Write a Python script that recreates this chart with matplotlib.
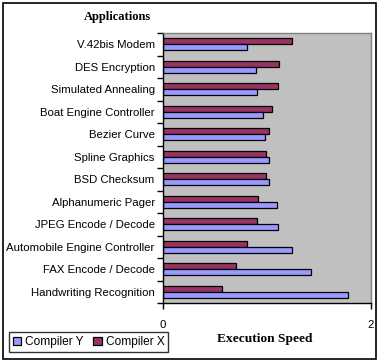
import numpy as np
import matplotlib
matplotlib.use("Agg")
import matplotlib.pyplot as plt
from matplotlib.patches import Rectangle
from matplotlib.ticker import FixedLocator, NullFormatter

categories = ["V.42bis Modem", "DES Encryption", "Simulated Annealing",
              "Boat Engine Controller", "Bezier Curve", "Spline Graphics",
              "BSD Checksum", "Alphanumeric Pager", "JPEG Encode / Decode",
              "Automobile Engine Controller", "FAX Encode / Decode",
              "Handwriting Recognition"]
compiler_x = [1.244, 1.12, 1.11, 1.05, 1.023, 0.994, 0.994, 0.917, 0.907, 0.808, 0.705, 0.571]
compiler_y = [0.808, 0.898, 0.907, 0.965, 0.985, 1.023, 1.023, 1.10, 1.11, 1.244, 1.427, 1.782]
xticks = [0, 2]

W, H = 378, 361
fig = plt.figure(figsize=(W / 100, H / 100), dpi=100)
fig.patch.set_facecolor("white")
fig.patches.append(Rectangle((3 / W, 2 / H), 373 / W, 356 / H, transform=fig.transFigure,
                             fill=False, edgecolor="black", linewidth=1.2))

ax = fig.add_axes([163 / W, (H - 303) / H, 208 / W, 270 / H])
ax.set_facecolor("#C0C0C0")

n = len(categories)
pos = np.arange(n)
h = 0.27
ax.barh(pos - h / 2, compiler_x, height=h, color="#993366", edgecolor="black",
        linewidth=0.9, label="Compiler X")
ax.barh(pos + h / 2, compiler_y, height=h, color="#9999FF", edgecolor="black",
        linewidth=0.9, label="Compiler Y")

ax.set_ylim(n - 0.5, -0.5)
ax.set_xlim(0, 2)

font = "Liberation Sans"
ax.yaxis.set_major_locator(FixedLocator(np.arange(n + 1) - 0.5))
ax.yaxis.set_major_formatter(NullFormatter())
ax.set_yticks(pos, minor=True)
ax.set_yticklabels(categories, minor=True, fontfamily=font, fontsize=8.2)
ax.tick_params(axis="y", which="major", direction="out", length=4, width=1)
ax.tick_params(axis="y", which="minor", length=0, pad=6)

ax.set_xticks(xticks)
ax.set_xticklabels([str(t) for t in xticks], fontfamily=font, fontsize=8.2)
ax.tick_params(axis="x", direction="out", length=4, width=1, pad=8)

for s in ["top", "right"]:
    ax.spines[s].set_color("#808080")
    ax.spines[s].set_linewidth(1)
for s in ["left", "bottom"]:
    ax.spines[s].set_color("black")
    ax.spines[s].set_linewidth(1)

fig.text(117 / W, 1 - 17 / H, "Applications", ha="center", va="center",
         fontfamily="Liberation Serif", fontweight="bold", fontsize=9)
fig.text(265 / W, 1 - 339 / H, "Execution Speed", ha="center", va="center",
         fontfamily="Liberation Serif", fontweight="bold", fontsize=9.6)

handles, labels = ax.get_legend_handles_labels()
leg = fig.legend([handles[1], handles[0]], [labels[1], labels[0]], loc="center",
                 bbox_to_anchor=(88.5 / W, 1 - 342 / H), ncol=2, frameon=True,
                 fancybox=False, edgecolor="black", handlelength=0.7, handleheight=0.7,
                 handletextpad=0.35, columnspacing=0.8, borderpad=0.3,
                 prop={"family": font, "size": 8.6})
leg.get_frame().set_linewidth(1)

fig.savefig("out.png", dpi=100)
